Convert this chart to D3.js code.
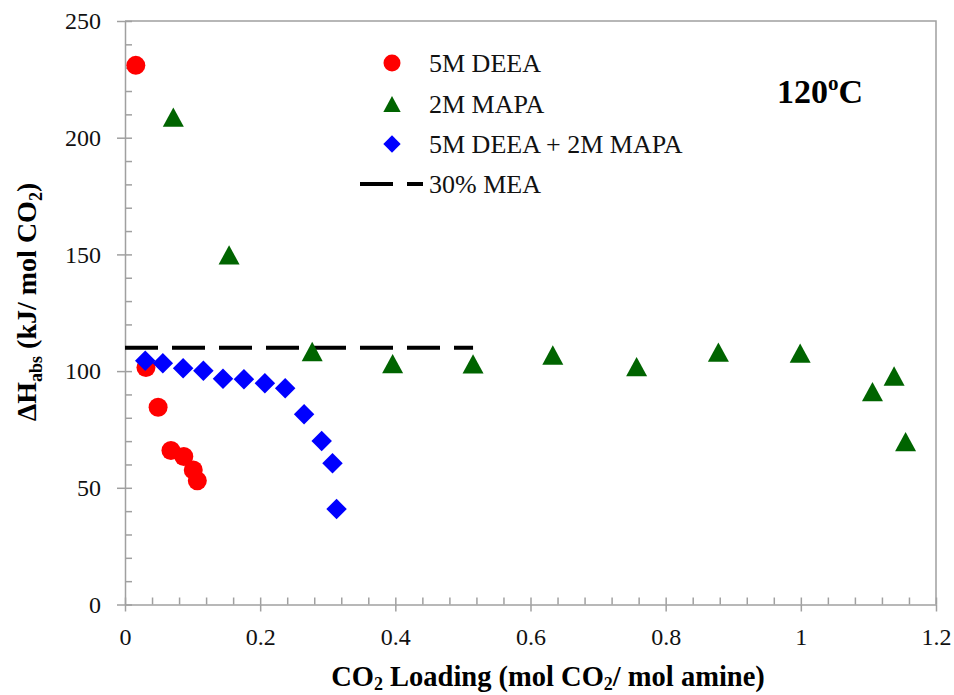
<!DOCTYPE html>
<html>
<head>
<meta charset="utf-8">
<script src="https://cdn.jsdelivr.net/npm/d3@7"></script>
<style>
    body { margin: 0; background: #fff; }
    .axis path, .axis line { stroke: #a0a0a0; stroke-width: 1.5; }
</style>
</head>
<body>
<div id="chart"></div>
<script>
// data
const deeaX = [0.016, 0.031, 0.049, 0.068, 0.087, 0.101, 0.107];
const deeaY = [231, 101.5, 84.5, 66, 63.4, 57.6, 53];

const mapaX = [0.0715, 0.154, 0.277, 0.396, 0.515, 0.633, 0.757, 0.878, 0.999, 1.106, 1.138, 1.155];
const mapaY = [208.8, 149.8, 108.4, 103.2, 103.1, 106.9, 101.9, 108.1, 107.7, 91.2, 97.9, 69.8];

const blendX = [0.030, 0.056, 0.086, 0.116, 0.145, 0.176, 0.207, 0.237, 0.265, 0.291, 0.307, 0.313];
const blendY = [104.4, 103.4, 101.2, 100.1, 96.7, 96.5, 94.8, 92.7, 81.5, 70.1, 60.5, 40.9];

const meaX = [0, 0.515];
const meaY = [110, 110];

const xTicks = [0, 0.2, 0.4, 0.6, 0.8, 1, 1.2];
const yTicks = [0, 50, 100, 150, 200, 250];
const legendNames = ["5M DEEA", "2M MAPA", "5M DEEA + 2M MAPA", "30% MEA"];

const FONT = "'Liberation Serif', 'Times New Roman', 'DejaVu Serif', serif";

// dimensions
let dimensions = {
    width: 954,
    height: 695,
    margin: { top: 21, right: 18, bottom: 90.5, left: 125 },
};
dimensions.boundedWidth = dimensions.width - dimensions.margin.left - dimensions.margin.right;
dimensions.boundedHeight = dimensions.height - dimensions.margin.top - dimensions.margin.bottom;

const svg = d3.select("#chart")
    .append("svg")
    .attr("width", dimensions.width)
    .attr("height", dimensions.height)
    .attr("font-family", FONT)
    .style("display", "block");

const g = svg.append("g")
    .attr("transform", `translate(${dimensions.margin.left}, ${dimensions.margin.top})`);

const xScale = d3.scaleLinear().domain([0, 1.2]).range([0, dimensions.boundedWidth]);
const yScale = d3.scaleLinear().domain([0, 250]).range([dimensions.boundedHeight, 0]);

// frame (top + right)
g.append("path")
    .attr("d", `M0,0H${dimensions.boundedWidth}V${dimensions.boundedHeight}`)
    .attr("fill", "none")
    .attr("stroke", "#a0a0a0")
    .attr("stroke-width", 1.5);

// minor ticks, pointing inside
g.append("g")
    .attr("class", "axis")
    .attr("transform", `translate(0, ${dimensions.boundedHeight})`)
    .call(d3.axisBottom(xScale).tickValues(d3.range(0, 1.2001, 0.04)).tickSize(-7).tickFormat(""))
    .call(a => a.select(".domain").remove());
g.append("g")
    .attr("class", "axis")
    .call(d3.axisLeft(yScale).tickValues(d3.range(0, 251, 10)).tickSize(-7).tickFormat(""))
    .call(a => a.select(".domain").remove());

// major axes
const xAxis = g.append("g")
    .attr("class", "axis")
    .attr("transform", `translate(0, ${dimensions.boundedHeight})`)
    .call(d3.axisBottom(xScale).tickValues(xTicks).tickSize(7).tickSizeOuter(0).tickPadding(16).tickFormat(d3.format("")));
const yAxis = g.append("g")
    .attr("class", "axis")
    .call(d3.axisLeft(yScale).tickValues(yTicks).tickSize(8).tickSizeOuter(0).tickPadding(16));

[xAxis, yAxis].forEach(a => a
    .attr("font-family", FONT)
    .attr("font-size", 24)
    .selectAll("text")
    .attr("fill", "#111"));

// marker shapes
const tri = {
    draw(ctx, size) {
        const w = Math.sqrt(size), h = w * 0.92;
        ctx.moveTo(0, -h / 2); ctx.lineTo(w / 2, h / 2); ctx.lineTo(-w / 2, h / 2); ctx.closePath();
    }
};
const diamond = {
    draw(ctx, size) {
        const r = Math.sqrt(size) / 2;
        ctx.moveTo(0, -r); ctx.lineTo(r, 0); ctx.lineTo(0, r); ctx.lineTo(-r, 0); ctx.closePath();
    }
};

// 30% MEA dashed line
g.append("path")
    .datum(d3.zip(meaX, meaY))
    .attr("d", d3.line().x(d => xScale(d[0])).y(d => yScale(d[1])))
    .attr("fill", "none")
    .attr("stroke", "#000")
    .attr("stroke-width", 4)
    .attr("stroke-dasharray", "33,14");

const series = [
    { x: mapaX, y: mapaY, color: "#006400", sym: d3.symbol().type(tri).size(441) },
    { x: deeaX, y: deeaY, color: "#ff0000", sym: d3.symbol().type(d3.symbolCircle).size(Math.PI * 9.5 * 9.5) },
    { x: blendX, y: blendY, color: "#0000ff", sym: d3.symbol().type(diamond).size(420) },
];

series.forEach(s => {
    g.selectAll(null)
        .data(d3.zip(s.x, s.y))
        .enter()
        .append("path")
        .attr("d", s.sym)
        .attr("transform", d => `translate(${xScale(d[0])}, ${yScale(d[1])})`)
        .attr("fill", s.color);
});

// legend
const legend = svg.append("g");
const rowY = [63, 104, 144, 184];
legend.append("path").attr("d", d3.symbol().type(d3.symbolCircle).size(Math.PI * 8.5 * 8.5))
    .attr("transform", `translate(392, ${rowY[0]})`).attr("fill", "#ff0000");
legend.append("path").attr("d", d3.symbol().type(tri).size(300))
    .attr("transform", `translate(392, ${rowY[1]})`).attr("fill", "#006400");
legend.append("path").attr("d", d3.symbol().type(diamond).size(300))
    .attr("transform", `translate(392, ${rowY[2]})`).attr("fill", "#0000ff");
legend.append("line")
    .attr("x1", 360).attr("x2", 423).attr("y1", rowY[3]).attr("y2", rowY[3])
    .attr("stroke", "#000").attr("stroke-width", 4).attr("stroke-dasharray", "33,14");
legend.selectAll("text")
    .data(legendNames)
    .enter()
    .append("text")
    .attr("x", 429)
    .attr("y", (d, i) => rowY[i] + 9)
    .attr("font-family", FONT)
    .attr("font-size", 26)
    .attr("fill", "#111")
    .text(d => d);

// temperature label
const temp = svg.append("text")
    .attr("x", 777).attr("y", 103)
    .attr("font-family", FONT)
    .attr("font-size", 34).attr("font-weight", "bold");
temp.append("tspan").text("120");
temp.append("tspan").attr("font-size", 21).attr("dy", -13).text("o");
temp.append("tspan").attr("dy", 13).text("C");

// axis titles
const xTitle = svg.append("text")
    .attr("x", 548).attr("y", 686)
    .attr("text-anchor", "middle")
    .attr("font-family", FONT)
    .attr("font-size", 28.5).attr("font-weight", "bold");
xTitle.append("tspan").text("CO");
xTitle.append("tspan").attr("font-size", 18).attr("dy", 4).text("2");
xTitle.append("tspan").attr("dy", -4).text(" Loading (mol CO");
xTitle.append("tspan").attr("font-size", 18).attr("dy", 4).text("2");
xTitle.append("tspan").attr("dy", -4).text("/ mol amine)");

const yTitle = svg.append("text")
    .attr("transform", "translate(36, 302) rotate(-90)")
    .attr("text-anchor", "middle")
    .attr("font-family", FONT)
    .attr("font-size", 28).attr("font-weight", "bold");
yTitle.append("tspan").text("ΔH");
yTitle.append("tspan").attr("font-size", 18).attr("dy", 6).text("abs");
yTitle.append("tspan").attr("dy", -6).text(" (kJ/ mol CO");
yTitle.append("tspan").attr("font-size", 18).attr("dy", 6).text("2");
yTitle.append("tspan").attr("dy", -6).text(")");
</script>
</body>
</html>
